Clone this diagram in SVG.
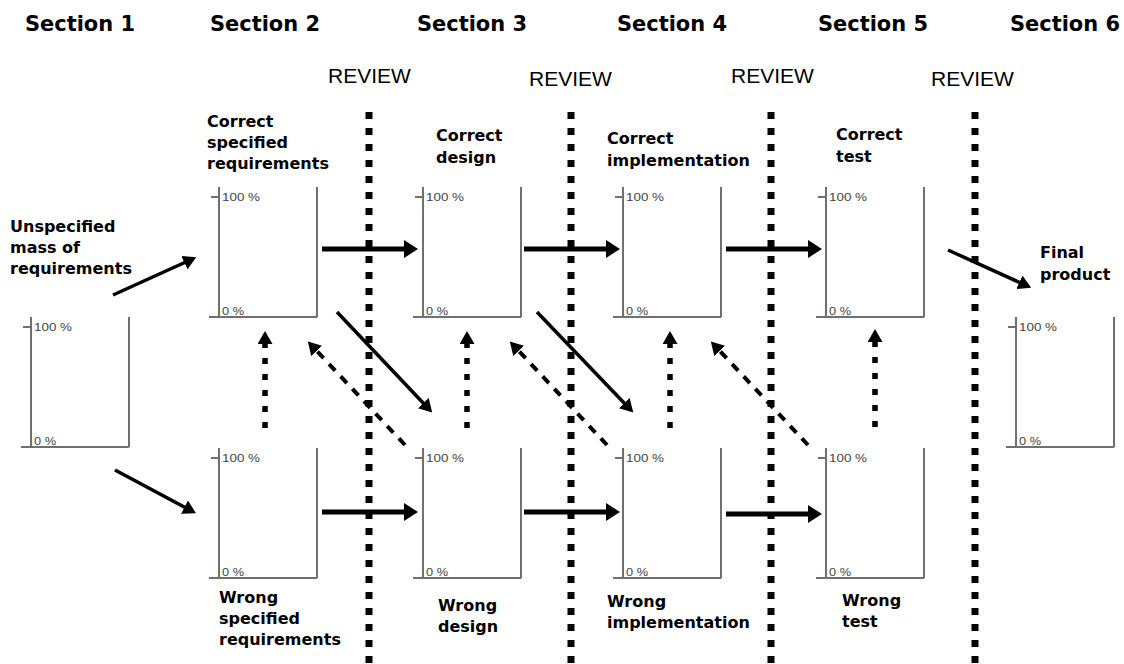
<svg xmlns="http://www.w3.org/2000/svg" xmlns:xlink="http://www.w3.org/1999/xlink" width="1124" height="664" viewBox="0 0 1124 664">
<style>
.sec{font-family:"DejaVu Sans",Verdana,sans-serif;font-weight:bold;font-size:21px;fill:#000}
.rev{font-family:"Liberation Sans",Arial,sans-serif;font-size:21px;fill:#000}
.lbl{font-family:"DejaVu Sans",Verdana,sans-serif;font-weight:bold;font-size:16px;fill:#000}
.pct{font-family:"Liberation Sans",Arial,sans-serif;font-size:10px;fill:#444}
.ax{stroke:#707070;stroke-width:2;fill:none}
.review{stroke:#000;stroke-width:7;stroke-dasharray:7 9;fill:none}
.thick{stroke:#000;stroke-width:5;fill:none;marker-end:url(#headL)}
.diag{stroke:#000;stroke-width:3.5;fill:none;marker-end:url(#headM)}
.dotup{stroke:#000;stroke-width:5.5;stroke-dasharray:6 10;fill:none;marker-end:url(#headM)}
.dash{stroke:#000;stroke-width:4;stroke-dasharray:9 8;fill:none;marker-end:url(#headM)}
</style>
<defs>
<marker id="headL" markerUnits="userSpaceOnUse" viewBox="0 0 14 18" refX="4" refY="9" markerWidth="14" markerHeight="18" orient="auto"><path d="M0,0 L14,9 L0,18 z" fill="#000"/></marker>
<marker id="headM" markerUnits="userSpaceOnUse" viewBox="0 0 13 15" refX="4" refY="7.5" markerWidth="13" markerHeight="15" orient="auto"><path d="M0,0 L13,7.5 L0,15 z" fill="#000"/></marker>
<g id="chart">
<path class="ax" d="M0,0 V130 M98,0 V130 M-10,130 H98 M-8,10 H0"/>
<text class="pct" x="3" y="14" textLength="38" lengthAdjust="spacingAndGlyphs">100 %</text>
<text class="pct" x="3" y="128" textLength="22" lengthAdjust="spacingAndGlyphs">0 %</text>
</g>
</defs>
<rect width="1124" height="664" fill="#fff"/>

<g id="headings">
<text class="sec" x="25" y="31" textLength="110" lengthAdjust="spacingAndGlyphs">Section 1</text>
<text class="sec" x="210" y="31" textLength="110" lengthAdjust="spacingAndGlyphs">Section 2</text>
<text class="sec" x="417" y="31" textLength="110" lengthAdjust="spacingAndGlyphs">Section 3</text>
<text class="sec" x="617" y="31" textLength="110" lengthAdjust="spacingAndGlyphs">Section 4</text>
<text class="sec" x="818" y="31" textLength="110" lengthAdjust="spacingAndGlyphs">Section 5</text>
<text class="sec" x="1010" y="31" textLength="110" lengthAdjust="spacingAndGlyphs">Section 6</text>
</g>

<g id="reviews">
<path class="review" d="M369,112 V664 M571,112 V664 M771,112 V664 M975,112 V664"/>
<text class="rev" x="328" y="83">REVIEW</text>
<text class="rev" x="529" y="86">REVIEW</text>
<text class="rev" x="731" y="83">REVIEW</text>
<text class="rev" x="931" y="86">REVIEW</text>
</g>

<g id="unspecified">
<use xlink:href="#chart" x="31" y="317"/>
<text class="lbl" x="10" y="232">Unspecified</text>
<text class="lbl" x="10" y="253">mass of</text>
<text class="lbl" x="10" y="274">requirements</text>
</g>
<g id="correct-req">
<use xlink:href="#chart" x="219" y="187"/>
<text class="lbl" x="207" y="127">Correct</text>
<text class="lbl" x="207" y="148">specified</text>
<text class="lbl" x="207" y="169">requirements</text>
</g>
<g id="wrong-req">
<use xlink:href="#chart" x="219" y="448"/>
<text class="lbl" x="219" y="603">Wrong</text>
<text class="lbl" x="219" y="624">specified</text>
<text class="lbl" x="219" y="645">requirements</text>
</g>
<g id="correct-design">
<use xlink:href="#chart" x="423" y="187"/>
<text class="lbl" x="436" y="141">Correct</text>
<text class="lbl" x="436" y="163">design</text>
</g>
<g id="wrong-design">
<use xlink:href="#chart" x="423" y="448"/>
<text class="lbl" x="438" y="611">Wrong</text>
<text class="lbl" x="438" y="632">design</text>
</g>
<g id="correct-impl">
<use xlink:href="#chart" x="623" y="187"/>
<text class="lbl" x="607" y="144">Correct</text>
<text class="lbl" x="607" y="166">implementation</text>
</g>
<g id="wrong-impl">
<use xlink:href="#chart" x="623" y="448"/>
<text class="lbl" x="607" y="607">Wrong</text>
<text class="lbl" x="607" y="628">implementation</text>
</g>
<g id="correct-test">
<use xlink:href="#chart" x="826" y="187"/>
<text class="lbl" x="836" y="140">Correct</text>
<text class="lbl" x="836" y="162">test</text>
</g>
<g id="wrong-test">
<use xlink:href="#chart" x="826" y="448"/>
<text class="lbl" x="842" y="606">Wrong</text>
<text class="lbl" x="842" y="627">test</text>
</g>
<g id="final">
<use xlink:href="#chart" x="1016" y="317"/>
<text class="lbl" x="1040" y="258">Final</text>
<text class="lbl" x="1040" y="280">product</text>
</g>

<g id="connectors">
<path class="diag" d="M113,295 L188,261"/>
<path class="diag" d="M115,470 L188,509"/>
<path class="diag" d="M948,250 L1023,284"/>
<path class="thick" d="M322,249 H408"/>
<path class="thick" d="M524,249 H610"/>
<path class="thick" d="M726,249 H812"/>
<path class="thick" d="M322,512 H408"/>
<path class="thick" d="M524,512 H610"/>
<path class="thick" d="M726,514 H812"/>
<path class="diag" d="M337,312 L426,406"/>
<path class="diag" d="M537,312 L627,406"/>
<path class="dotup" d="M265,428 V340"/>
<path class="dotup" d="M467,428 V340"/>
<path class="dotup" d="M670,428 V340"/>
<path class="dotup" d="M875,427 V338"/>
<path class="dash" d="M405,445 L314,348"/>
<path class="dash" d="M607,445 L516,348"/>
<path class="dash" d="M808,445 L717,348"/>
</g>
</svg>
